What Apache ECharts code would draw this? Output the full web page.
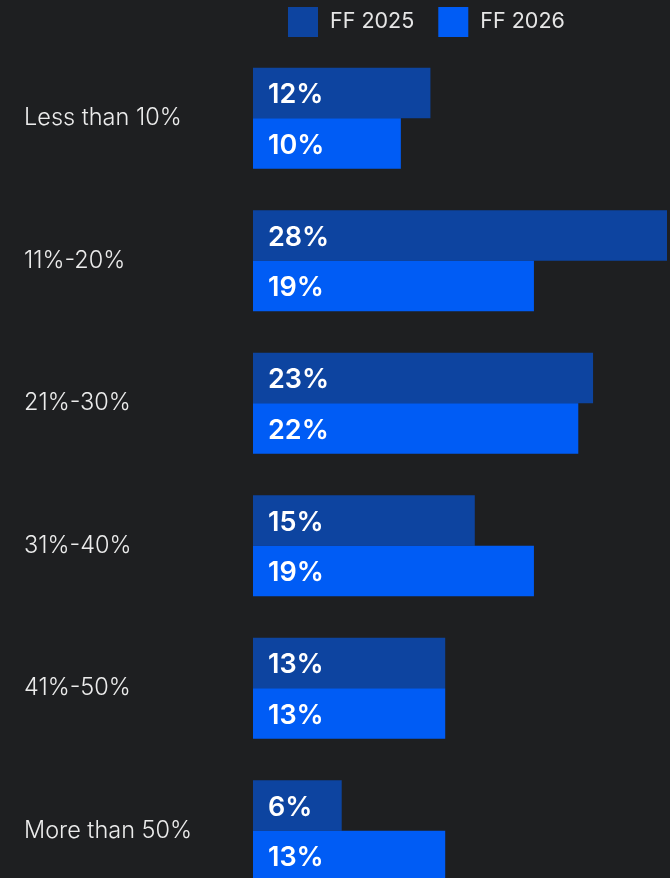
<!DOCTYPE html>
<html><head><meta charset="utf-8">
<script src="https://cdn.jsdelivr.net/npm/echarts@6/dist/echarts.min.js"></script>
<style>html,body{margin:0;padding:0;background:#1e1f21;overflow:hidden;}#c{width:670px;height:910px;}</style>
</head><body><div id="c"></div>
<script>
const categories = ["Less than 10%", "11%-20%", "21%-30%", "31%-40%", "41%-50%", "More than 50%"];
const ff2025 = [12, 28, 23, 15, 13, 6];
const ff2026 = [10, 19, 22, 19, 13, 13];
const seriesNames = ["FF 2025", "FF 2026"];

const chart = echarts.init(document.getElementById('c'), null, {renderer: 'canvas'});
const labelStyle = {
  show: true, position: 'insideLeft', distance: 15, offset: [0, 2],
  color: '#ffffff', fontSize: 27, fontWeight: 600, fontFamily: 'Inter',
  formatter: p => p.value + '%'
};
chart.setOption({
  backgroundColor: '#1e1f21',
  animation: false,
  legend: {
    top: 7, left: 288, padding: 0, itemWidth: 30, itemHeight: 30, itemGap: 24,
    icon: 'rect',
    textStyle: {color: '#e6e6e6', fontSize: 21.5, fontFamily: 'Inter', padding: [0, 0, 0, 7]},
    data: seriesNames
  },
  grid: {left: 253, top: 47, width: 414, height: 855, containLabel: false},
  xAxis: {type: 'value', min: 0, max: 28, show: false},
  yAxis: {
    type: 'category', data: categories, inverse: true,
    axisLine: {show: false}, axisTick: {show: false}, splitLine: {show: false},
    axisLabel: {color: '#ececec', fontSize: 23.5, fontWeight: 300, fontFamily: 'Inter', align: 'left', margin: 229}
  },
  series: [
    {name: seriesNames[0], type: 'bar', data: ff2025, barWidth: 50.5, barGap: '0%',
     itemStyle: {color: '#0d44a0'}, label: labelStyle},
    {name: seriesNames[1], type: 'bar', data: ff2026, barWidth: 50.5,
     itemStyle: {color: '#005cf5'}, label: labelStyle}
  ]
});
</script></body></html>
